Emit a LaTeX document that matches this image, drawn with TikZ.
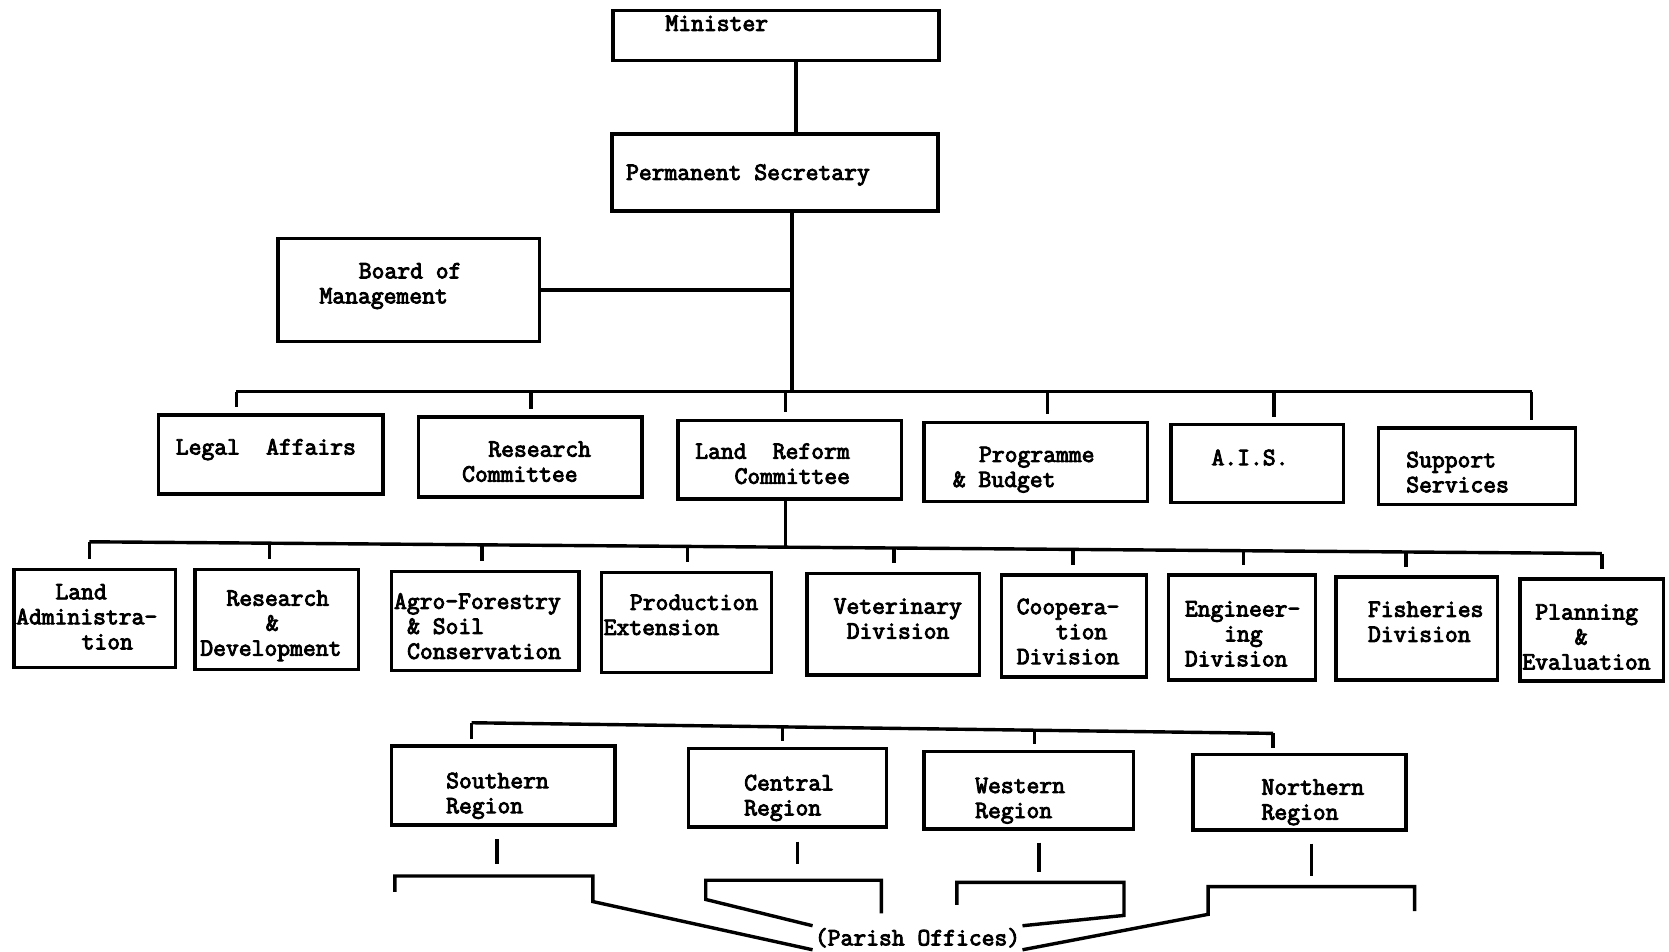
\documentclass[tikz,border=0pt]{standalone}
\usepackage{fontspec}
\newfontfamily\tw[FakeBold=3.6]{Latin Modern Mono}
\usetikzlibrary{fit}
\newlength\cw
\setlength\cw{12.3pt}
\newcommand\ind[1]{\hspace*{#1\cw}}
\begin{document}
\begin{tikzpicture}[x=1pt,y=-1pt,
  box/.style={draw, line width=3.3pt, inner sep=0pt},
  lbl/.style={font=\fontsize{23.4}{23.5}\tw, align=left, anchor=base west, inner sep=0pt},
  con/.style={line width=3.2pt},
  stub/.style={con, shorten >=6pt}]
\useasboundingbox (0,0) rectangle (1568,894);

% ---- boxes ----
\node[box, fit={(576,10) (882,57)}] (min) {};
\node[box, fit={(575,126) (881,198)}] (ps) {};
\node[box, fit={(261,224) (507,321)}] (bom) {};
% second tier
\node[box, fit={(149,390) (360,464)}] (legal) {};
\node[box, fit={(393,392) (603,467)}] (rc) {};
\node[box, fit={(637,395) (847,469)}] (lrc) {};
\node[box, fit={(868,397) (1078,471)}] (pb) {};
\node[box, fit={(1100,399) (1262,472)}] (ais) {};
\node[box, fit={(1295,402) (1480,474)}] (ss) {};
% divisions
\node[box, fit={(13,535) (165,627)}] (ladm) {};
\node[box, fit={(183,535) (337,629)}] (rd) {};
\node[box, fit={(368,537) (544,630)}] (af) {};
\node[box, fit={(565,538) (725,632)}] (pe) {};
\node[box, fit={(758,539) (920,634)}] (vd) {};
\node[box, fit={(941,540) (1077,636)}] (cd) {};
\node[box, fit={(1098,540) (1236,639)}] (ed) {};
\node[box, fit={(1255,542) (1407,639)}] (fd) {};
\node[box, fit={(1428,544) (1563,640)}] (pl) {};
% regions
\node[box, fit={(368,701) (578,775)}] (sr) {};
\node[box, fit={(647,703) (833,777)}] (cr) {};
\node[box, fit={(868,706) (1065,779)}] (wr) {};
\node[box, fit={(1121,709) (1321,780)}] (nr) {};

% ---- labels (anchored at the baseline of the last line) ----
\node[lbl] (tmin) at (625,29) {Minister};
\node[lbl] (tps) at (588,169) {Permanent Secretary};
\node[lbl] (tbom) at (300,285) {\ind{3}Board of\\Management};
\node[lbl] (tlegal) at (165,427) {Legal\ind{2}Affairs};
\node[lbl] (trc) at (434,452.5) {\ind{2}Research\\Committee};
\node[lbl] (tlrc) at (653,454.5) {Land\ind{2}Reform\\\ind{3}Committee};
\node[lbl] (tpb) at (895,457.5) {\ind{2}Programme\\\& Budget};
\node[lbl] (tais) at (1138,437) {A.I.S.};
\node[lbl] (tss) at (1321,462.5) {Support\\Services};
\node[lbl] (tladm) at (15,610) {\ind{3}Land\\Administra-\\\ind{5}tion};
\node[lbl] (trd) at (188,616) {\ind{2}Research\\\ind{5}\&\\Development};
\node[lbl] (taf) at (370,619) {Agro-Forestry\\\ind{1}\& Soil\\\ind{1}Conservation};
\node[lbl] (tpe) at (567,596.5) {\ind{2}Production\\Extension};
\node[lbl] (tvd) at (783,600) {Veterinary\\\ind{1}Division};
\node[lbl] (tcd) at (955,624) {Coopera-\\\ind{3}tion\\Division};
\node[lbl] (ted) at (1113,626) {Engineer-\\\ind{3}ing\\Division};
\node[lbl] (tfd) at (1285,603) {Fisheries\\Division};
\node[lbl] (tpl) at (1430,629) {\ind{1}Planning\\\ind{4}\&\\Evaluation};
\node[lbl] (tsr) at (419,764) {Southern\\Region};
\node[lbl] (tcr) at (699,766) {Central\\Region};
\node[lbl] (twr) at (916,768.5) {Western\\Region};
\node[lbl] (tnr) at (1185,770) {Northern\\Region};
\node[lbl, anchor=center, inner sep=2pt] (po) at (862,881) {(Parish Offices)};

% ---- top of the chain ----
\draw[con] (748,0 |- min.south) -- (748,0 |- ps.north);
\coordinate (b2) at (744,368);
\draw[con] (b2 |- ps.south) -- (b2);
\draw[con] (bom.east) -- (bom.east -| b2);

% ---- second tier bus ----
\coordinate (b2l) at (222,368);
\coordinate (b2r) at (1439,368);
\draw[con] (b2l) -- (b2r);
\foreach \x/\n in {222/legal,499/rc,738/lrc,984/pb,1197/ais,1439/ss}
  \draw[stub] (\x,368) -- (\x,0 |- \n.north);

% ---- division bus ----
\coordinate (b3l) at (84,509);
\coordinate (b3r) at (1505,520);
\draw[con] (738,0 |- lrc.south) -- (738,513.4);
\draw[con] (b3l) -- (b3r);
\foreach \x/\y/\n in {84/509/ladm,253/510.3/rd,453/511.9/af,646/513.4/pe,840/514.9/vd,1008/516.2/cd,1168/517.4/ed,1321/518.6/fd,1505/520/pl}
  \draw[stub, shorten >=8pt] (\x,\y) -- (\x,0 |- \n.north);

% ---- region bus ----
\coordinate (b4l) at (443,679);
\coordinate (b4r) at (1196,689);
\draw[con] (b4l) -- (b4r);
\foreach \x/\y/\n in {443/679/sr,735/682.9/cr,972/686/wr,1196/689/nr}
  \draw[stub, shorten >=5pt] (\x,\y) -- (\x,0 |- \n.north);

% ---- region ticks ----
\draw[con, shorten <=12pt] (sr.south -| 467,0) -- (467,812);
\draw[con, shorten <=12pt] (cr.south -| 749,0) -- (749,812);
\draw[con, shorten <=11pt] (wr.south -| 976,0) -- (976,819);
\draw[con, shorten <=11pt] (nr.south -| 1232,0) -- (1232,823);

% ---- parish office brackets ----
\draw[con] (371,838) -- (371,823) -- (557,823) -- (557,847) -- (po.south west);
\draw[con] (828,858) -- (828,827) -- (663,827) -- (663,845) -- (po.north west);
\draw[con] (899,850) -- (899,829) -- (1056,829) -- (1056,860) -- (po.north east);
\draw[con] (1329,856) -- (1329,833) -- (1135,833) -- (1135,859) -- (po.south east);
\end{tikzpicture}
\end{document}
